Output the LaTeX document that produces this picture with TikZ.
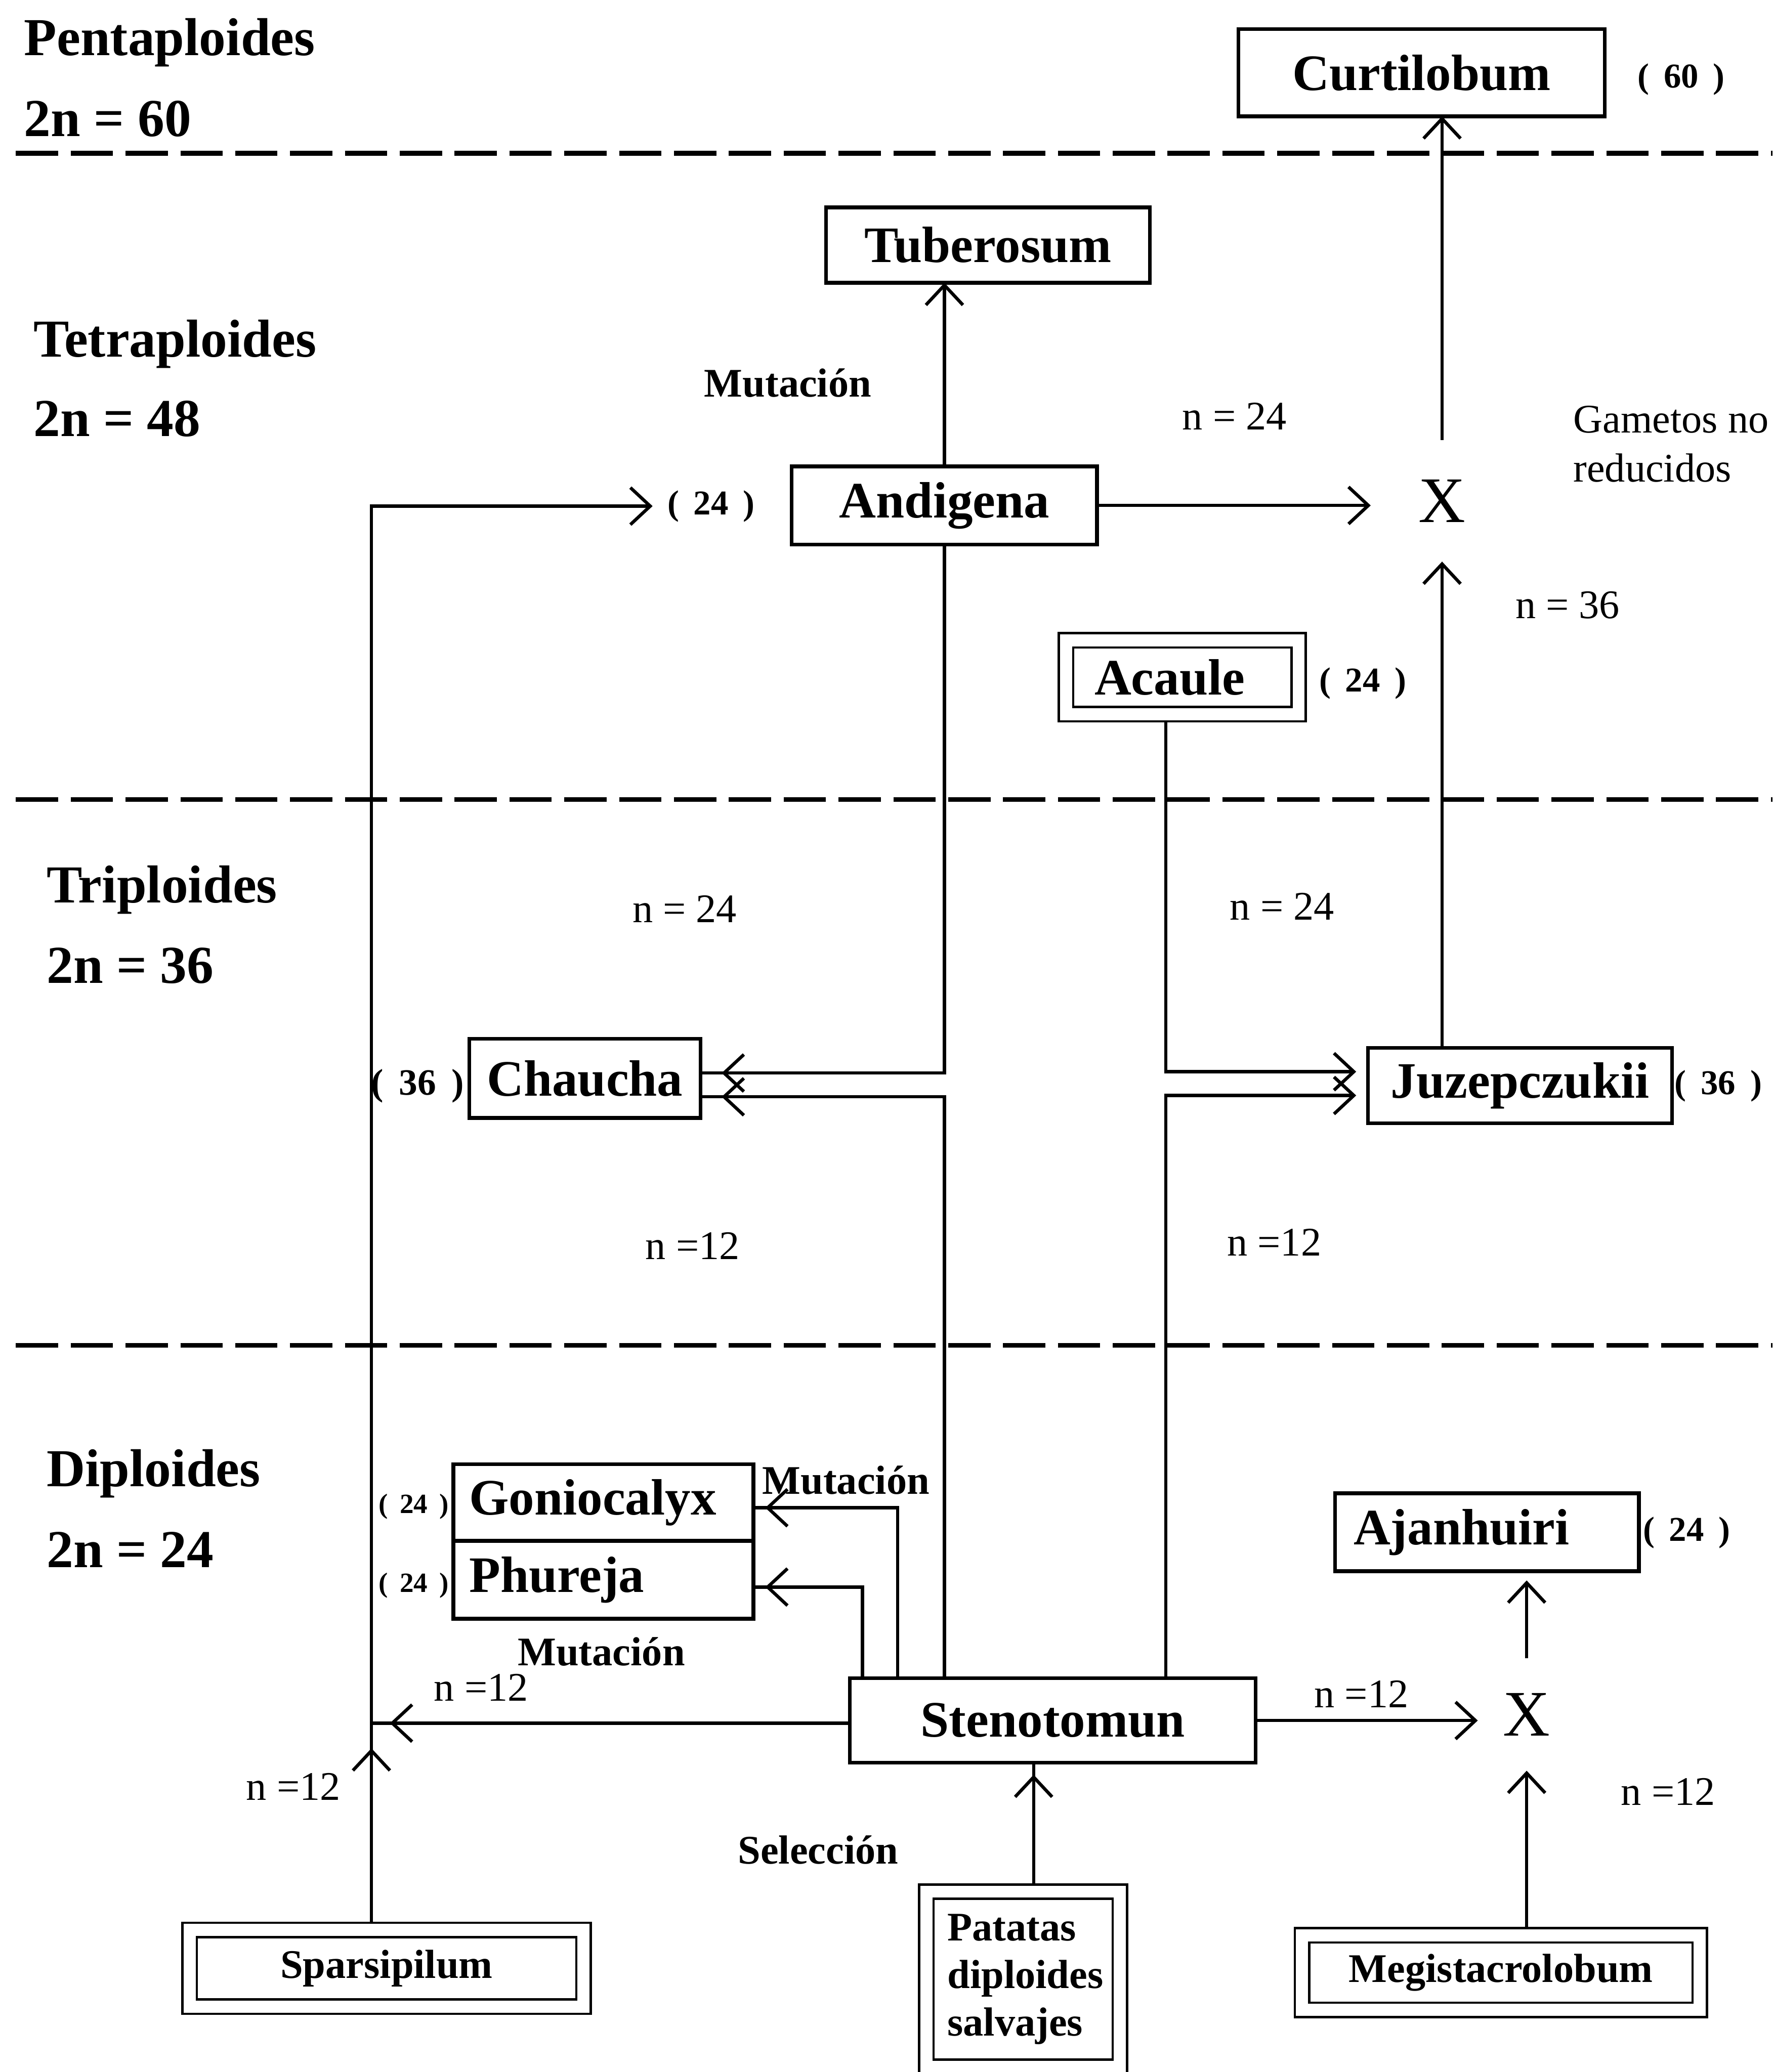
\documentclass[tikz,border=0pt]{standalone}
\usepackage{fontspec}
\setmainfont{Liberation Serif}
\usetikzlibrary{arrows.meta,calc}

\begin{document}
\begin{tikzpicture}[
  x=0.02cm,y=-0.02cm,
  box/.style={draw,line width=1.6pt,inner sep=0pt,outer sep=0pt,font=\bfseries\fontsize{22}{26}\selectfont},
  dbox/.style={draw,double,double distance=5.2pt,line width=1pt,inner sep=0pt,outer sep=3.6pt,font=\bfseries\fontsize{17.5}{20.5}\selectfont},
  lvl/.style={anchor=base west,inner sep=0pt,font=\bfseries\fontsize{23}{27}\selectfont},
  nlab/.style={inner sep=0pt,font=\fontsize{17.5}{21}\selectfont},
  blab/.style={inner sep=0pt,font=\bfseries\fontsize{17.5}{21}\selectfont},
  cnt/.style={inner sep=0pt,font=\bfseries\fontsize{15}{18}\selectfont},
  xn/.style={inner sep=0pt,outer sep=0pt,font=\fontsize{28}{32}\selectfont},
  ln/.style={line width=1.4pt},
  arr/.style={line width=1.4pt,-{Straight Barb[length=0.3cm,width=0.56cm]}},
  lvline/.style={line width=2pt,dash pattern=on 0.64cm off 0.19cm}
]
  \useasboundingbox (0,0) rectangle (1341,1568);

  % niveles de ploidia
  \draw[lvline] (12,116) -- (1341,116);
  \draw[lvline] (12,605) -- (1341,605);
  \draw[lvline] (12,1018) -- (1341,1018);
  \node[lvl] (pent) at (18,42) {Pentaploides};
  \node[lvl] (pentn) at (18,103) {2n = 60};
  \node[lvl] (tetra) at (25,270) {Tetraploides};
  \node[lvl] (tetran) at (25,330) {2n = 48};
  \node[lvl] (tri) at (35,683) {Triploides};
  \node[lvl] (trin) at (35,744) {2n = 36};
  \node[lvl] (di) at (35,1125) {Diploides};
  \node[lvl] (din) at (35,1186) {2n = 24};

  % cajas
  \node[box,minimum width=5.54cm,minimum height=1.32cm] (curt) at (1075.5,55) {Curtilobum};
  \node[box,minimum width=4.9cm,minimum height=1.14cm] (tub) at (747.5,185.5) {Tuberosum};
  \node[box,minimum width=4.62cm,minimum height=1.18cm] (andi) at (714.5,382.5) {Andigena};
  \node[dbox,font=\bfseries\fontsize{22}{26}\selectfont,minimum width=3.52cm,minimum height=1.12cm,text width=2.66cm,inner xsep=0.43cm,align=left] (acau) at (894.5,512.5) {Acaule};
  \node[box,minimum width=3.5cm,minimum height=1.2cm] (chau) at (442.5,816) {Chaucha};
  \node[box,minimum width=4.6cm,minimum height=1.14cm] (juze) at (1150,821.5) {Juzepczukii};
  \node[box,minimum height=1.16cm,text width=4.06cm,inner xsep=0.24cm,align=left] (gonio) at (456.5,1137) {Goniocalyx};
  \node[box,minimum height=1.18cm,text width=4.06cm,inner xsep=0.24cm,align=left] (phur) at (456.5,1195.5) {Phureja};
  \node[box,minimum height=1.18cm,text width=4.04cm,inner xsep=0.28cm,align=left] (ajan) at (1125,1159.5) {Ajanhuiri};
  \node[box,minimum width=6.14cm,minimum height=1.28cm] (steno) at (796.5,1302) {Stenotomun};
  \node[dbox,minimum width=5.96cm,minimum height=1.16cm] (spars) at (292.5,1489.5) {Sparsipilum};
  \node[dbox,minimum height=2.65cm,text width=2.29cm,inner xsep=0.32cm,align=left] (pata) at (774,1497.75) {Patatas\\diploides\\salvajes};
  \node[dbox,minimum width=6.02cm,minimum height=1.13cm] (megi) at (1135.5,1492.75) {Megistacrolobum};

  % cruces
  \node[xn,minimum width=2.16cm,minimum height=1.84cm] (xtop) at (1091,379) {X};
  \node[xn,minimum width=1.48cm,minimum height=1.7cm] (xbot) at (1155,1297.5) {X};

  % numeros cromosomicos
  \node[cnt] (c60) at (1272,60) {(\, 60\, )};
  \node[cnt] (c24andi) at (538,383) {(\, 24\, )};
  \node[cnt] (c24acau) at (1031,517) {(\, 24\, )};
  \node[cnt,font=\bfseries\fontsize{16}{19}\selectfont] (c36chau) at (316,822) {(\, 36\, )};
  \node[cnt] (c36juze) at (1300,822) {(\, 36\, )};
  \node[cnt,font=\bfseries\fontsize{12}{14}\selectfont] (c24gonio) at (313,1140) {(\, 24\, )};
  \node[cnt,font=\bfseries\fontsize{12}{14}\selectfont] (c24phur) at (313,1200) {(\, 24\, )};
  \node[cnt] (c24ajan) at (1276,1160) {(\, 24\, )};

  % gametos
  \node[nlab] (n24a) at (934,315) {n = 24};
  \node[nlab] (n36) at (1186,458) {n = 36};
  \node[nlab] (n24b) at (518,688) {n = 24};
  \node[nlab] (n24c) at (970,686) {n = 24};
  \node[nlab] (n12a) at (524,943) {n =12};
  \node[nlab] (n12b) at (964,940) {n =12};
  \node[nlab] (n12c) at (364,1277) {n =12};
  \node[nlab] (n12d) at (1030,1282) {n =12};
  \node[nlab] (n12e) at (222,1352) {n =12};
  \node[nlab] (n12f) at (1262,1356) {n =12};
  \node[nlab,anchor=west,align=left] (gam) at (1190,336) {Gametos no\\reducidos};
  \node[blab] (mut1) at (596,290) {Mutación};
  \node[blab] (mut2) at (640,1120) {Mutación};
  \node[blab] (mut3) at (455,1250) {Mutación};
  \node[blab] (sel) at (619,1400) {Selección};

  % puntos de union
  \coordinate (jn) at (281,1304);
  \coordinate (chu) at ([yshift=0.08cm]chau.east);
  \coordinate (chl) at ([yshift=-0.28cm]chau.east);
  \coordinate (jzu) at ([yshift=0.21cm]juze.west);
  \coordinate (jzl) at ([yshift=-0.15cm]juze.west);
  \coordinate (acx) at ([xshift=-0.25cm]acau.south);
  \coordinate (sg) at ([xshift=0.72cm]steno.north west);
  \coordinate (sp) at ([xshift=0.19cm]steno.north west);
  \coordinate (ge) at ([yshift=-0.08cm]gonio.east);
  \coordinate (pe) at ([yshift=-0.11cm]phur.east);
  \coordinate (px) at ([xshift=0.16cm]pata.north);

  % conexiones
  \draw[arr] (andi.north) -- (andi.north |- tub.south);
  \draw[arr] (andi.east) -- (andi.east -| xtop.west);
  \draw[arr] (xtop.north) -- (xtop.north |- curt.south);
  \draw[arr] (xtop.south |- juze.north) -- (xtop.south);
  \draw[ln] (andi.south) |- (chu);
  \draw[arr] ([xshift=1cm]chu) -- ([xshift=0.32cm]chu);
  \draw[ln] (andi.south |- steno.north) |- (chl);
  \draw[arr] ([xshift=1cm]chl) -- ([xshift=0.32cm]chl);
  \draw[arr,shorten >=0.18cm] (acx) |- (jzu);
  \draw[arr,shorten >=0.18cm] (acx |- steno.north) |- (jzl);
  \draw[ln] (sg) |- (ge);
  \draw[arr] ([xshift=1cm]ge) -- ([xshift=0.18cm]ge);
  \draw[ln] (sp) |- (pe);
  \draw[arr] ([xshift=1cm]pe) -- ([xshift=0.18cm]pe);
  \draw[ln] (jn -| steno.west) -- (jn);
  \draw[arr] (jn -| steno.west) -- ([xshift=0.28cm]jn);
  \draw[arr] (jn |- spars.north) -- ([yshift=-0.38cm]jn);
  \draw[arr,shorten >=0.22cm] (jn |- spars.north) |- (c24andi.west);
  \draw[arr] (steno.east) -- (steno.east -| xbot.west);
  \draw[arr,shorten >=0.14cm] (xbot.north) -- (xbot.north |- ajan.south);
  \draw[arr] (xbot.south |- megi.north) -- (xbot.south);
  \draw[ln] (px) -- (px |- steno.south);
  \draw[arr,shorten >=0.18cm] (px) -- (px |- steno.south);
\end{tikzpicture}
\end{document}
